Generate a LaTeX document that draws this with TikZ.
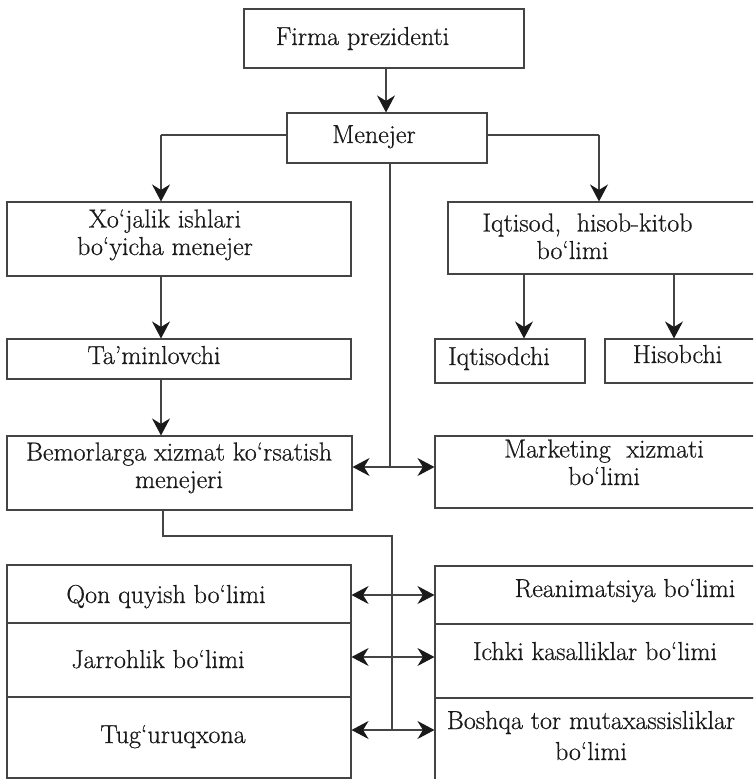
\documentclass[tikz,border=0pt]{standalone}
\usepackage{fontspec}
\newfontfamily\diagfont{Latin Modern Roman}[FakeBold=0.6]
\usetikzlibrary{arrows.meta}
\definecolor{ink}{HTML}{1A1A1A}
\definecolor{edge}{HTML}{444444}
\begin{document}
\begin{tikzpicture}[x=1pt,y=-1pt,
  box/.style={draw=edge, line width=1.1pt, inner sep=0pt},
  txt/.style={inner sep=0pt, text=ink, anchor=base, align=center,
    font=\diagfont\fontsize{26}{27.5}\selectfont},
  tip/.tip={Stealth[length=17pt,width=18pt,inset=5.5pt,color=ink]},
  ln/.style={draw=edge, line width=1.2pt},
  arr/.style={ln, -tip},
  dbl/.style={ln, tip-tip}]
\useasboundingbox (0,0) rectangle (753,779);
\clip (0,0) rectangle (753,779);
% boxes
\node[box, minimum width=280, minimum height=59] (firma) at (384,38.5) {};
\node[box, minimum width=200, minimum height=50] (men) at (387,138) {};
\node[box, minimum width=344, minimum height=74] (xoj) at (179,239) {};
\node[box, minimum width=344, minimum height=40] (tam) at (179,359) {};
\node[box, minimum width=345, minimum height=74] (bem) at (179.5,473) {};
\node[box, minimum width=312, minimum height=72] (iqt) at (604,238) {};
\node[box, minimum width=150, minimum height=44] (iqc) at (510,361) {};
\node[box, minimum width=155, minimum height=44] (his) at (682.5,361) {};
\node[box, minimum width=325, minimum height=72] (mar) at (597.5,472) {};
\node[box, minimum width=344, minimum height=58] (qon) at (179,594) {};
\node[box, minimum width=344, minimum height=74] (jar) at (179,660) {};
\node[box, minimum width=344, minimum height=81] (tug) at (179,737.5) {};
\node[box, minimum width=325, minimum height=58] (rea) at (597.5,595) {};
\node[box, minimum width=325, minimum height=74] (ich) at (597.5,661) {};
\node[box, minimum width=325, minimum height=92] (bos) at (597.5,744) {};
% texts (multi-line nodes: base = last line)
\node[txt] (firma-t) at (362.5,45) {Firma prezidenti};
\node[txt] (men-t) at (374,143) {Menejer};
\node[txt] (xoj-t) at (165,255) {Xo‘jalik ishlari\\bo‘yicha menejer};
\node[txt] (tam-t) at (154,364) {Ta’minlovchi};
\node[txt] (bem-t) at (179,488) {Bemorlarga xizmat ko‘rsatish\\menejeri};
\node[txt] (iqt-t) at (587.5,259) {Iqtisod,\ \ hisob-kitob\\\hspace*{-30pt}bo‘limi};
\node[txt] (iqc-t) at (499,365) {Iqtisodchi};
\node[txt] (his-t) at (677.5,363) {Hisobchi};
\node[txt] (mar-t) at (604,485) {Marketing\ \ xizmati\\bo‘limi};
\node[txt] (qon-t) at (166,603) {Qon\ quyish\ bo‘limi};
\node[txt] (jar-t) at (158,668) {Jarrohlik bo‘limi};
\node[txt] (tug-t) at (173,743) {Tug‘uruqxona};
\node[txt] (rea-t) at (625,597) {Reanimatsiya bo‘limi};
\node[txt] (ich-t) at (595,660) {Ichki kasalliklar bo‘limi};
\node[txt, font=\diagfont\fontsize{26}{31}\selectfont] (bos-t) at (591,760) {Boshqa tor mutaxassisliklar\\bo‘limi};
% helper coordinates
\coordinate (mL) at (161,135);
\coordinate (mR) at (599,135);
\coordinate (mD) at (390,467);
\coordinate (bD) at (163,536);
\coordinate (vB) at (392,536);
\coordinate (r1) at (392,595);
\coordinate (r2) at (392,657);
\coordinate (r3) at (392,730);
% connectors
\draw[arr] (firma.south -| 386,0) -- (men.north -| 386,0);
\draw[ln] (men.west |- mL) -- (mL);
\draw[arr] (mL) -- (mL |- xoj.north);
\draw[ln] (men.east |- mR) -- (mR);
\draw[arr] (mR) -- (mR |- iqt.north);
\draw[arr] (xoj.south -| mL) -- (tam.north -| mL);
\draw[arr] (tam.south -| mL) -- (bem.north -| mL);
\draw[arr] (iqt.south -| 524,0) -- (iqc.north -| 524,0);
\draw[arr] (iqt.south -| 674,0) -- (his.north -| 674,0);
\draw[ln] (men.south -| mD) -- (mD);
\draw[dbl] (mD -| bem.east) -- (mD -| mar.west);
\draw[ln] (bem.south -| bD) -- (bD) -- (vB) -- (r3);
\draw[dbl] (r1 -| qon.east) -- (r1 -| rea.west);
\draw[dbl] (r2 -| jar.east) -- (r2 -| ich.west);
\draw[dbl] (r3 -| tug.east) -- (r3 -| bos.west);
\end{tikzpicture}
\end{document}
